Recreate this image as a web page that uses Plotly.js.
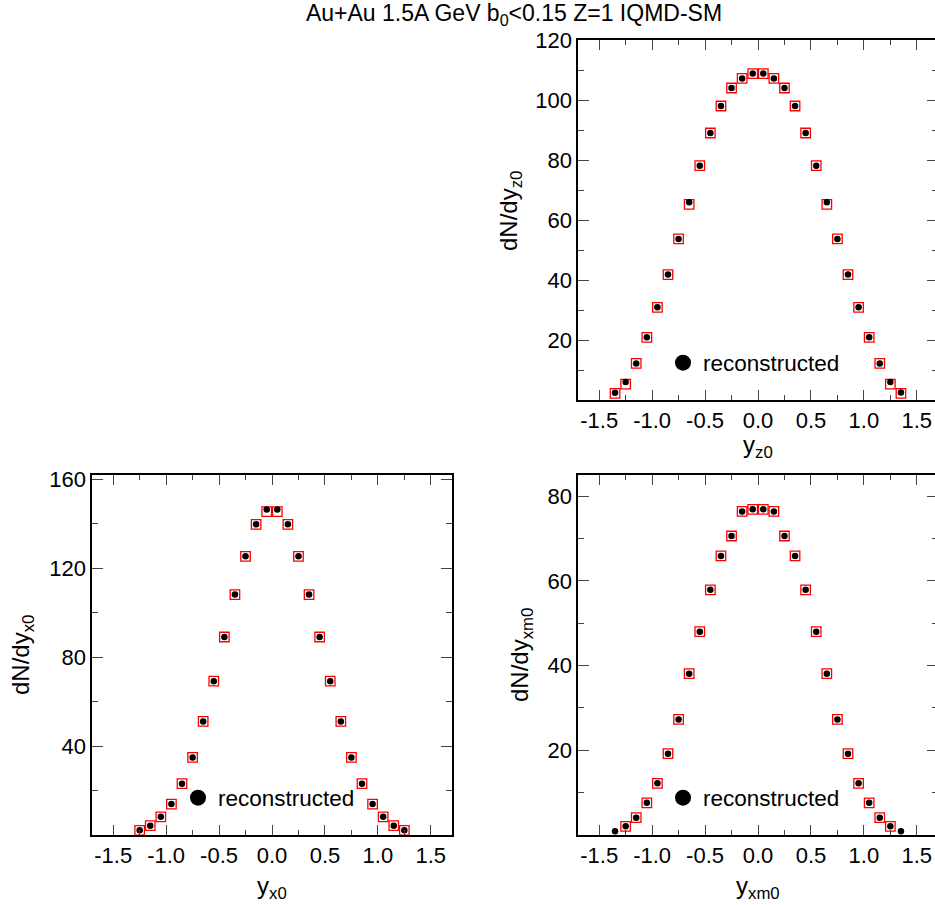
<!DOCTYPE html>
<html>
<head>
<meta charset="utf-8">
<script src="https://cdn.plot.ly/plotly-3.0.1.min.js"></script>
<style>
html, body { margin: 0; padding: 0; overflow: hidden; background: #fff; }
#chart { width: 940px; height: 905px; }
</style>
</head>
<body>
<div id="chart"></div>
<script>
// Bin centres (rapidity)
var binCenters = [-1.35, -1.25, -1.15, -1.05, -0.95, -0.85, -0.75, -0.65, -0.55, -0.45, -0.35, -0.25, -0.15, -0.05,
                  0.05, 0.15, 0.25, 0.35, 0.45, 0.55, 0.65, 0.75, 0.85, 0.95, 1.05, 1.15, 1.25, 1.35];

// Panel 1: dN/dy_z0
var recZ0  = [2.4, 6.0, 12.2, 20.9, 30.9, 41.8, 53.7, 65.9, 78.1, 89.0, 98.0, 104.0, 107.2, 108.8,
              108.8, 107.2, 104.0, 98.0, 89.0, 78.1, 65.9, 53.7, 41.8, 30.9, 20.9, 12.2, 6.0, 2.5];
var trueZ0 = [2.2, 5.3, 12.2, 20.9, 30.9, 41.8, 53.7, 65.2, 78.1, 89.0, 98.0, 104.0, 107.2, 108.8,
              108.8, 107.2, 104.0, 98.0, 89.0, 78.1, 65.2, 53.7, 41.8, 30.9, 20.9, 12.2, 5.3, 2.2];

// Panel 2: dN/dy_x0
var recX0  = [null, 2.1, 4.2, 8.2, 13.9, 23.1, 34.9, 51.1, 69.2, 89.1, 108.2, 125.4, 139.8, 146.5,
              146.5, 139.8, 125.4, 108.2, 89.1, 69.2, 51.1, 34.9, 23.1, 13.9, 8.2, 4.2, 2.1, null];
var trueX0 = [null, 2.1, 4.2, 8.2, 13.9, 23.1, 34.9, 51.1, 69.2, 89.1, 108.2, 125.4, 139.8, 145.5,
              145.5, 139.8, 125.4, 108.2, 89.1, 69.2, 51.1, 34.9, 23.1, 13.9, 8.2, 4.2, 2.1, null];

// Panel 3: dN/dy_xm0
var recXm0  = [0.87, 2.05, 4.1, 7.6, 12.2, 19.2, 27.3, 38.1, 48.0, 57.9, 65.9, 70.6, 76.4, 76.9,
               76.9, 76.4, 70.6, 65.9, 57.9, 48.0, 38.1, 27.3, 19.2, 12.2, 7.6, 4.1, 2.05, 0.87];
var trueXm0 = [null, 2.05, 4.1, 7.6, 12.2, 19.2, 27.3, 38.1, 48.0, 57.9, 65.9, 70.6, 76.4, 76.9,
               76.9, 76.4, 70.6, 65.9, 57.9, 48.0, 38.1, 27.3, 19.2, 12.2, 7.6, 4.1, 2.05, null];

var xTickVals = [-1.5, -1.0, -0.5, 0.0, 0.5, 1.0, 1.5];
var xTickText = ['-1.5', '-1.0', '-0.5', '0.0', '0.5', '1.0', '1.5'];
var yTickZ0 = [20, 40, 60, 80, 100, 120];
var yTickX0 = [40, 80, 120, 160];
var yTickXm0 = [20, 40, 60, 80];

var legendLabel = 'reconstructed';
var titleText = 'Au+Au 1.5A GeV b<sub>0</sub>&lt;0.15 Z=1 IQMD-SM';

var FONT = 'Liberation Sans, Arial, Helvetica, sans-serif';
var W = 940, H = 905;

function px(x) { return x / W; }
function py(y) { return 1 - y / H; }

function trueTrace(y, xa, ya) {
  return { x: binCenters, y: y, xaxis: xa, yaxis: ya, type: 'scatter', mode: 'markers',
    showlegend: false, hoverinfo: 'skip',
    marker: { symbol: 'square-open', size: 9.5, color: '#ff0000', line: { color: '#ff0000', width: 1.3 } } };
}
function recTrace(y, xa, ya) {
  return { x: binCenters, y: y, xaxis: xa, yaxis: ya, type: 'scatter', mode: 'markers',
    showlegend: false, hoverinfo: 'skip',
    marker: { symbol: 'circle', size: 6.5, color: '#000000' } };
}
// legend-only entry (no drawable point)
function legendTrace(xa, ya, lg) {
  return { x: [null], y: [null], xaxis: xa, yaxis: ya, type: 'scatter', mode: 'markers',
    name: legendLabel, showlegend: true, legend: lg, hoverinfo: 'skip',
    marker: { symbol: 'circle', size: 16, color: '#000000' } };
}

var data = [
  trueTrace(trueZ0, 'x', 'y'), recTrace(recZ0, 'x', 'y'), legendTrace('x', 'y', 'legend'),
  trueTrace(trueX0, 'x2', 'y2'), recTrace(recX0, 'x2', 'y2'), legendTrace('x2', 'y2', 'legend2'),
  trueTrace(trueXm0, 'x3', 'y3'), recTrace(recXm0, 'x3', 'y3'), legendTrace('x3', 'y3', 'legend3')
];

function xAxis(domain, anchor) {
  return {
    domain: domain, anchor: anchor, range: [-1.7, 1.7],
    tickmode: 'array', tickvals: xTickVals, ticktext: xTickText,
    ticks: 'inside', ticklen: 10, tickwidth: 1, tickcolor: '#444',
    minor: { tickmode: 'linear', tick0: 0, dtick: 0.25, ticks: 'inside', ticklen: 5, tickwidth: 1, tickcolor: '#444' },
    showline: true, linecolor: '#000', linewidth: 1.6, mirror: 'ticks',
    showgrid: false, zeroline: false,
    tickfont: { family: FONT, size: 22, color: '#000' }
  };
}
function yAxis(domain, anchor, range, tickvals, minorDtick) {
  return {
    domain: domain, anchor: anchor, range: range,
    tickmode: 'array', tickvals: tickvals,
    ticks: 'inside', ticklen: 11, tickwidth: 1, tickcolor: '#444',
    minor: { tickmode: 'linear', tick0: 0, dtick: minorDtick, ticks: 'inside', ticklen: 6, tickwidth: 1, tickcolor: '#444' },
    showline: true, linecolor: '#000', linewidth: 1.6, mirror: 'ticks',
    showgrid: false, zeroline: false,
    tickfont: { family: FONT, size: 22, color: '#000' }
  };
}

var rightDom = [px(578), px(938)];
var leftDom = [px(92), px(452)];
var topDom = [py(400), py(40)];
var botDom = [py(835), py(475)];

function legendBox(xp, yp) {
  return { x: px(xp), y: py(yp), xanchor: 'left', yanchor: 'middle',
    bgcolor: 'rgba(0,0,0,0)', borderwidth: 0,
    font: { family: FONT, size: 22.5, color: '#000' } };
}

function ann(text, xp, yp, angle) {
  return { text: text, xref: 'paper', yref: 'paper', x: px(xp), y: py(yp),
    xanchor: 'center', yanchor: 'middle', showarrow: false, textangle: angle || 0,
    font: { family: FONT, size: 24, color: '#000' } };
}

var layout = {
  width: W, height: H,
  margin: { l: 0, r: 0, t: 0, b: 0 },
  paper_bgcolor: '#fff', plot_bgcolor: '#fff',
  font: { family: FONT, size: 22, color: '#000' },
  title: { text: titleText, x: px(514), xanchor: 'center', y: py(13), yanchor: 'middle',
           font: { family: FONT, size: 23, color: '#000' } },
  xaxis: xAxis(rightDom, 'y'),
  yaxis: yAxis(topDom, 'x', [0, 120], yTickZ0, 10),
  xaxis2: xAxis(leftDom, 'y2'),
  yaxis2: yAxis(botDom, 'x2', [0, 162], yTickX0, 20),
  xaxis3: xAxis(rightDom, 'y3'),
  yaxis3: yAxis(botDom, 'x3', [0, 85], yTickXm0, 10),
  legend: legendBox(663, 363),
  legend2: legendBox(178, 798),
  legend3: legendBox(663, 798),
  annotations: [
    ann('dN/dy<sub>z0</sub>', 511, 211, -90),
    ann('y<sub>z0</sub>', 758, 446),
    ann('dN/dy<sub>x0</sub>', 22, 655, -90),
    ann('y<sub>x0</sub>', 272, 887),
    ann('dN/dy<sub>xm0</sub>', 521, 655, -90),
    ann('y<sub>xm0</sub>', 758, 887)
  ],
  showlegend: true
};

Plotly.newPlot('chart', data, layout, { displayModeBar: false, staticPlot: true });
</script>
</body>
</html>
